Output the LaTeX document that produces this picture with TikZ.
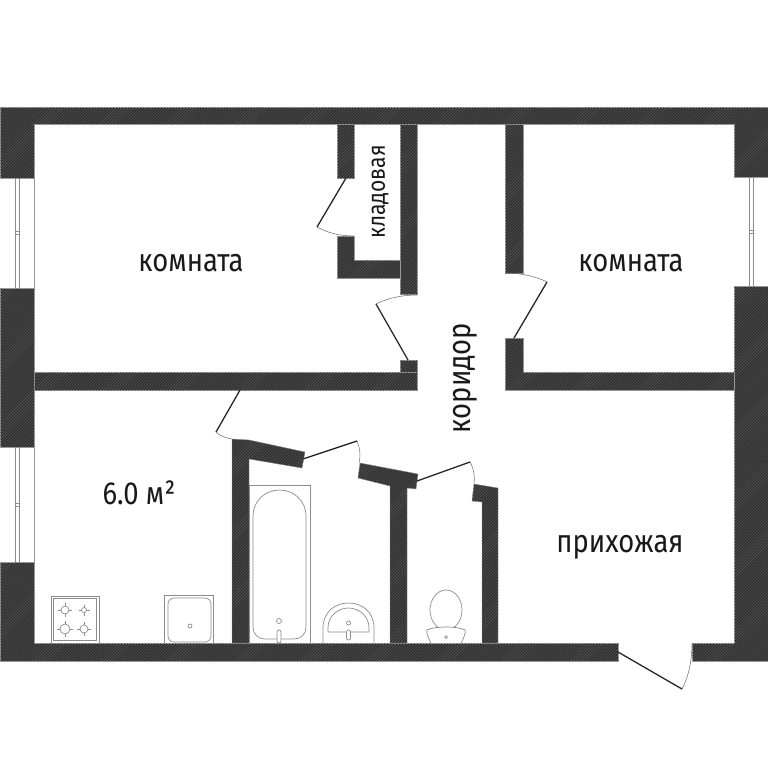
\documentclass[tikz,border=0pt]{standalone}
\usepackage{xcolor}
\usepackage{fontspec}
\setmainfont{Fira Sans}[FakeStretch=0.86]
\usetikzlibrary{patterns}
\definecolor{wallgray}{HTML}{303030}
\tikzset{
    wall/.style={fill=wallgray, draw=gray!80, line width=0.4pt, postaction={pattern=north east lines, pattern color=gray!55!wallgray}},
    leaf/.style={draw=black!85, line width=1.3pt},
    swing/.style={draw=gray!80!black, line width=0.5pt},
    fixture/.style={draw=gray!90, line width=0.7pt},
    roomlabel/.style={font=\fontsize{32}{32}\selectfont, text=black!90, inner sep=0pt}
}
\begin{document}
\begin{tikzpicture}[x=1bp, y=-1bp]
    \useasboundingbox[fill=white] (0,0) rectangle (768,768);

    % Outer walls
    \path[wall] (0,107) -- (768,107) -- (768,661) -- (692,661) -- (692,643) -- (734,643) -- (734,124) -- (34,124) -- (34,643) -- (618,643) -- (618,661) -- (0,661) -- cycle;

    % Room walls
    \path[wall] (34,372) rectangle (417,390);
    \path[wall] (400,360) rectangle (417,372);
    \path[wall] (400,124) rectangle (417,294);
    \path[wall] (337,124) rectangle (354,178);
    \path[wall] (337,236) -- (354,236) -- (354,260) -- (400,260) -- (400,278) -- (337,278) -- cycle;
    \path[wall] (505,124) rectangle (523,273);
    \path[wall] (505,338) -- (523,338) -- (523,372) -- (734,372) -- (734,390) -- (505,390) -- cycle;

    % Bath and WC walls
    \path[wall] (232,439) -- (249,440) -- (305,452) -- (302,468) -- (249,459) -- (249,643) -- (232,643) -- cycle;
    \path[wall] (360,463) -- (418,474) -- (416,489) -- (407,488) -- (407,643) -- (390,643) -- (390,486) -- (358,478) -- cycle;
    \path[wall] (474,484) -- (498,488) -- (498,643) -- (482,643) -- (482,502) -- (472,501) -- cycle;

    % Windows
    \foreach \wx/\wa/\wb in {0/178/288, 0/447/562, 734/177/286} {
        \fill[white] (\wx,\wa) rectangle (\wx+34,\wb);
        \draw[gray!80, line width=0.4pt] (\wx,\wa) -- (\wx+34,\wa) (\wx,\wb) -- (\wx+34,\wb);
        \draw[gray!90, line width=0.5pt] (\wx+15,\wa) rectangle (\wx+19,\wb);
        \draw[gray!90, line width=0.5pt] (\wx+15,\wa/2+\wb/2-1.5) rectangle (\wx+19,\wa/2+\wb/2+1.5);
    }

    % Doors
    \draw[leaf] (346,178) -- (317,227);
    \draw[swing] (317,227) .. controls (328,233) and (340,236) .. (354,236);
    \draw[leaf] (408,360) -- (376,304);
    \draw[swing] (376,304) .. controls (388,298) and (402,295) .. (417,295);
    \draw[leaf] (514,338) -- (547,282);
    \draw[swing] (547,282) .. controls (535,276) and (520,273) .. (505,273);
    \draw[leaf] (240,390) -- (216,432);
    \draw[swing] (216,432) .. controls (220,436) and (226,438) .. (232,439);
    \draw[leaf] (303,459) -- (357,441);
    \draw[swing] (357,441) .. controls (360,448) and (361,456) .. (359,463);
    \draw[leaf] (417,481) -- (470,462);
    \draw[swing] (470,462) .. controls (474,469) and (475,477) .. (474,484);
    \draw[leaf] (618,652) -- (682,689);
    \draw[swing] (682,689) .. controls (688,678) and (692,662) .. (692,643);

    % Stove
    \draw[fixture] (51,643) -- (51,596) -- (99,596) -- (99,643);
    \draw[fixture, line width=1pt] (53.5,598.5) rectangle (96,640);
    \foreach \bx/\by/\br in {65/610/4, 84/610/2.5, 65/629/5, 84/629/4} {
        \draw[fixture, line width=0.5pt] (\bx-\br-3,\by) -- (\bx+\br+3,\by) (\bx,\by-\br-3) -- (\bx,\by+\br+3);
        \draw[fixture, fill=white] (\bx,\by) circle (\br);
    }

    % Kitchen sink
    \draw[fixture] (164,643) -- (164,595) -- (213,595) -- (213,643);
    \draw[fixture, rounded corners=6pt] (168,598) rectangle (211,642);
    \draw[fixture] (190,626) circle (2);

    % Bath
    \draw[fixture] (249,643) -- (249,485) -- (310,485) -- (310,643);
    \draw[fixture] (253,516) .. controls (253,501) and (265,490) .. (279.5,490) .. controls (294,490) and (306,501) .. (306,516) -- (306,627) .. controls (306,634) and (301,639) .. (294,639) -- (265,639) .. controls (258,639) and (253,634) .. (253,627) -- cycle;
    \draw[fixture] (279,621) circle (2.5);
    \draw[fixture, rounded corners=2pt, fill=white] (277,630) rectangle (281,643);

    % Washbasin
    \draw[fixture] (323,643) -- (323,628) .. controls (323,612) and (335,603) .. (348.5,603) .. controls (362,603) and (374,612) .. (374,628) -- (374,643);
    \draw[fixture] (328,632) -- (328,628) .. controls (328,616) and (338,608) .. (348.5,608) .. controls (359,608) and (369,616) .. (369,628) -- (369,632) -- cycle;
    \draw[fixture] (348.5,623) circle (2);
    \draw[fixture, rounded corners=2pt, fill=white] (346.5,630) rectangle (350.5,640);

    % WC
    \draw[fixture, fill=white] (446,610) ellipse (16 and 20);
    \draw[fixture, fill=white] (431,643) .. controls (428,638) and (426,632) .. (427,630) .. controls (434,626) and (458,626) .. (465,630) .. controls (466,632) and (464,638) .. (461,643);
    \draw[fixture] (446,637) circle (1.5);

    % Labels
    \node[roomlabel] (room1) at (191,263) {комната};
    \node[roomlabel] (room2) at (631,263) {комната};
    \node[roomlabel, font=\fontsize{24.6}{24.6}\selectfont, rotate=90] (pantry) at (380,192) {кладовая};
    \node[roomlabel, rotate=90] (corridor) at (465,378) {коридор};
    \node[roomlabel] (kitchen) at (139,493) {6.0 м²};
    \node[roomlabel] (hall) at (620,547) {прихожая};
\end{tikzpicture}
\end{document}
